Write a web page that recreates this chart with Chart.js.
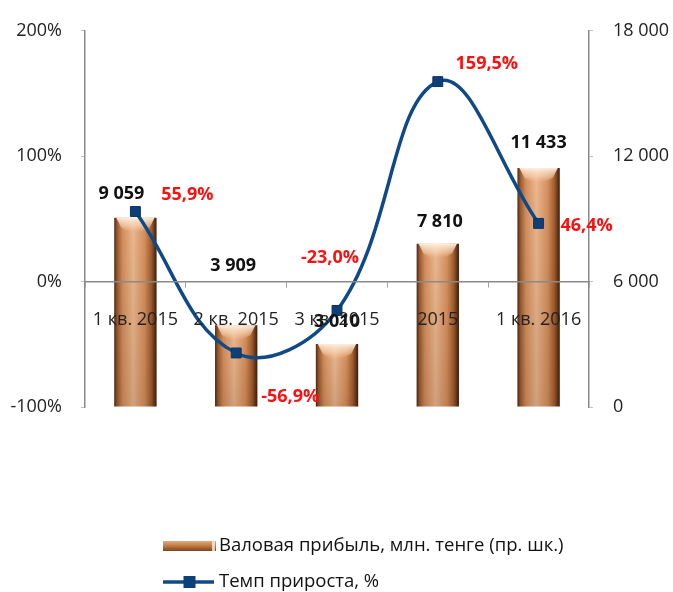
<!DOCTYPE html>
<html><head><meta charset="utf-8">
<script src="https://cdn.jsdelivr.net/npm/chart.js@4.4.1/dist/chart.umd.min.js"></script>
<style>html,body{margin:0;padding:0;background:#fff;} #wrap{width:673px;height:592px;position:relative;}</style>
</head><body><div id="wrap"><canvas id="c" width="673" height="592"></canvas></div>
<script>
const categories = ['1 кв. 2015', '2 кв. 2015', '3 кв. 2015', '2015', '1 кв. 2016'];
const grossProfit = [9059, 3909, 3010, 7810, 11433];
const growthRate = [55.9, -56.9, -23.0, 159.5, 46.4];
const leftTicks = [-100, 0, 100, 200];
const rightTicks = [0, 6000, 12000, 18000];
const seriesNames = ['Валовая прибыль, млн. тенге (пр. шк.)', 'Темп прироста, %'];

// label placement (layout, in px relative to each mark)
const barLabelOffsets = [[-14, -24], [-3, -59], [0, -22], [2, -22], [0, -25]];
const lineLabelOffsets = [[52, -17], [54, 44], [-7, -53], [49, -18], [48, 2]];

const FONT = "'Open Sans', 'DejaVu Sans', sans-serif";
const BAR_PCT = 0.42;
const LINE_COLOR = '#0f4a86';

function fmtThousands(n) { return String(Math.round(n)).replace(/\B(?=(\d{3})+(?!\d))/g, ' '); }
function fmtPct(v) { return v.toFixed(1).replace('.', ',') + '%'; }

function copperGradient(ctx2d, x0, x1) {
  const g = ctx2d.createLinearGradient(x0, 0, x1, 0);
  g.addColorStop(0, '#4e2812');
  g.addColorStop(0.07, '#9a5a30');
  g.addColorStop(0.2, '#d3905e');
  g.addColorStop(0.45, '#ebb890');
  g.addColorStop(0.72, '#d58f5c');
  g.addColorStop(0.88, '#9e5a2c');
  g.addColorStop(1, '#3a1c0a');
  return g;
}

function barBackground(context) {
  const chart = context.chart;
  const area = chart.chartArea;
  if (!area || context.type !== 'data' || !chart.scales.x) return '#c88050';
  const cx = chart.scales.x.getPixelForValue(context.dataIndex);
  const w = (area.right - area.left) / categories.length * BAR_PCT;
  if (!isFinite(cx)) return '#c88050';
  return copperGradient(chart.ctx, cx - w / 2, cx + w / 2);
}

const bevelPlugin = {
  id: 'bevel',
  afterDatasetDraw(chart, args) {
    if (args.index !== 0) return;
    const ctx = chart.ctx;
    const meta = chart.getDatasetMeta(0);
    ctx.save();
    meta.data.forEach(el => {
      const { x, y, width, base } = el.getProps(['x', 'y', 'width', 'base'], true);
      const l = x - width / 2, r = x + width / 2;
      const capH = 14;
      const g = ctx.createLinearGradient(0, y, 0, y + capH);
      g.addColorStop(0, 'rgba(255,242,228,0.95)');
      g.addColorStop(0.6, 'rgba(252,220,192,0.55)');
      g.addColorStop(1, 'rgba(245,205,175,0)');
      ctx.fillStyle = g;
      ctx.beginPath();
      ctx.moveTo(l + 2, y);
      ctx.lineTo(r - 2, y);
      ctx.lineTo(r - 7, y + capH - 4);
      ctx.quadraticCurveTo(x, y + capH + 4, l + 7, y + capH - 4);
      ctx.closePath();
      ctx.fill();
      const g2 = ctx.createLinearGradient(0, y, 0, base);
      g2.addColorStop(0, 'rgba(60,25,5,0)');
      g2.addColorStop(1, 'rgba(60,25,5,0.15)');
      ctx.fillStyle = g2;
      ctx.fillRect(l, y + capH, width, base - y - capH);
    });
    ctx.restore();
  }
};

const labelsPlugin = {
  id: 'valueLabels',
  afterDatasetsDraw(chart) {
    const ctx = chart.ctx;
    ctx.save();
    ctx.textAlign = 'center';
    ctx.textBaseline = 'middle';
    ctx.font = 'bold 18px ' + FONT;
    const bars = chart.getDatasetMeta(0).data;
    bars.forEach((el, i) => {
      const o = barLabelOffsets[i];
      ctx.fillStyle = '#111';
      ctx.fillText(fmtThousands(grossProfit[i]), el.x + o[0], el.y + o[1]);
    });
    const pts = chart.getDatasetMeta(1).data;
    pts.forEach((el, i) => {
      const o = lineLabelOffsets[i];
      ctx.fillStyle = '#ff1010';
      ctx.fillText(fmtPct(growthRate[i]), el.x + o[0], el.y + o[1]);
    });
    ctx.restore();
  }
};

const legendPlugin = {
  id: 'customLegend',
  afterDraw(chart) {
    const ctx = chart.ctx;
    ctx.save();
    const x0 = 163, sw = 53;
    const y1 = 546;
    const g = ctx.createLinearGradient(0, y1 - 5, 0, y1 + 5);
    g.addColorStop(0, '#e0ac84');
    g.addColorStop(0.5, '#c07840');
    g.addColorStop(1, '#7a4420');
    ctx.fillStyle = g;
    ctx.fillRect(x0, y1 - 5, sw, 10);
    ctx.fillStyle = 'rgba(255,235,215,0.8)';
    ctx.fillRect(x0 + sw - 4, y1 - 5, 3, 10);
    const y2 = 582;
    ctx.strokeStyle = LINE_COLOR;
    ctx.lineWidth = 3.5;
    ctx.beginPath();
    ctx.moveTo(x0, y2);
    ctx.lineTo(x0 + sw - 2, y2);
    ctx.stroke();
    ctx.fillStyle = '#0d3f78';
    ctx.fillRect(x0 + sw / 2 - 6, y2 - 6, 12, 12);
    ctx.font = '18.5px ' + FONT;
    ctx.fillStyle = '#111';
    ctx.textAlign = 'left';
    ctx.textBaseline = 'middle';
    ctx.fillText(seriesNames[0], 219, y1);
    ctx.fillText(seriesNames[1], 219, y2);
    ctx.restore();
  }
};

new Chart(document.getElementById('c'), {
  data: {
    labels: categories,
    datasets: [
      {
        type: 'bar',
        label: seriesNames[0],
        data: grossProfit,
        yAxisID: 'y1',
        backgroundColor: barBackground,
        borderWidth: 0,
        barPercentage: BAR_PCT,
        categoryPercentage: 1,
        order: 1
      },
      {
        type: 'line',
        label: seriesNames[1],
        data: growthRate,
        yAxisID: 'y',
        borderColor: LINE_COLOR,
        borderWidth: 3.5,
        tension: 0.4,
        pointStyle: 'rect',
        pointRadius: 7,
        pointBackgroundColor: '#0d3f78',
        pointBorderColor: '#0a3468',
        pointBorderWidth: 1,
        fill: false,
        order: 0
      }
    ]
  },
  options: {
    responsive: false,
    animation: false,
    events: [],
    layout: { padding: { top: 25, bottom: 185, left: 0, right: 0 } },
    plugins: { legend: { display: false }, tooltip: { enabled: false }, title: { display: false } },
    scales: {
      x: {
        type: 'category',
        position: { y: 0 },
        grid: { drawOnChartArea: false, offset: true, tickLength: 5, color: '#a0a0a0', lineWidth: 1, z: 1 },
        border: { color: '#8a8a8a', width: 1.5, z: 1 },
        ticks: { font: { family: FONT, size: 18 }, color: '#222', padding: 22, maxRotation: 0, autoSkip: false, z: 1 }
      },
      y: {
        position: 'left',
        min: leftTicks[0], max: leftTicks[leftTicks.length - 1],
        afterBuildTicks(scale) { scale.ticks = leftTicks.map(v => ({ value: v })); },
        afterFit(scale) { scale.width = 85; },
        grid: { drawOnChartArea: false, tickLength: 4, color: '#c0c0c0' },
        border: { color: '#8a8a8a', width: 1.5 },
        ticks: { font: { family: FONT, size: 18 }, color: '#222', padding: 19, callback: v => v + '%' }
      },
      y1: {
        position: 'right',
        min: rightTicks[0], max: rightTicks[rightTicks.length - 1],
        afterBuildTicks(scale) { scale.ticks = rightTicks.map(v => ({ value: v })); },
        afterFit(scale) { scale.width = 84; },
        grid: { drawOnChartArea: false, tickLength: 4, color: '#c0c0c0' },
        border: { color: '#8a8a8a', width: 1.5 },
        ticks: { font: { family: FONT, size: 18 }, color: '#222', padding: 20, callback: v => fmtThousands(v) }
      }
    }
  },
  plugins: [bevelPlugin, labelsPlugin, legendPlugin]
});
</script>
</body></html>
